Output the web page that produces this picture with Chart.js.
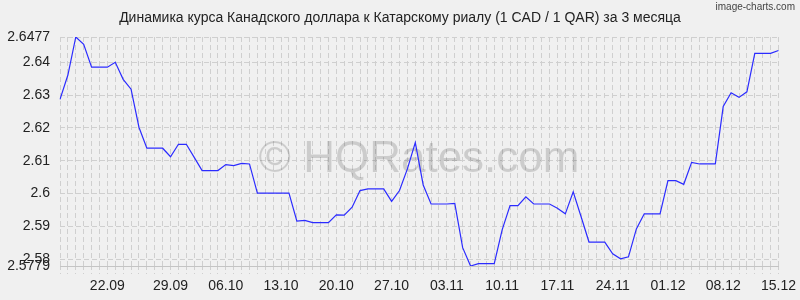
<!DOCTYPE html>
<html>
<head>
<meta charset="utf-8">
<script src="https://cdn.jsdelivr.net/npm/chart.js@4/dist/chart.umd.min.js"></script>
<style>
  html, body { margin: 0; padding: 0; background: #f0f0f0; }
  #wrap { width: 800px; height: 300px; }
</style>
</head>
<body>
<div id="wrap"><canvas id="rateChart"></canvas></div>
<script>
// dates (one point per day, one duplicate in the source data)
const dates = ('16.09 17.09 18.09 19.09 20.09 21.09 22.09 23.09 24.09 25.09 25.09 26.09 27.09 28.09 29.09 30.09 ' +
    '01.10 02.10 03.10 04.10 05.10 06.10 07.10 08.10 09.10 10.10 11.10 12.10 13.10 14.10 15.10 16.10 ' +
    '17.10 18.10 19.10 20.10 21.10 22.10 23.10 24.10 25.10 26.10 27.10 28.10 29.10 30.10 31.10 ' +
    '01.11 02.11 03.11 04.11 05.11 06.11 07.11 08.11 09.11 10.11 11.11 12.11 13.11 14.11 15.11 16.11 ' +
    '17.11 18.11 19.11 20.11 21.11 22.11 23.11 24.11 25.11 26.11 27.11 28.11 29.11 30.11 ' +
    '01.12 02.12 03.12 04.12 05.12 06.12 07.12 08.12 09.12 10.12 11.12 12.12 13.12 14.12 15.12').split(' ');

const shownDates = ['22.09', '29.09', '06.10', '13.10', '20.10', '27.10', '03.11',
    '10.11', '17.11', '24.11', '01.12', '08.12', '15.12'];

// CAD / QAR rate
const rates = [
    2.6287, 2.6361, 2.6477, 2.6455, 2.6385, 2.6385, 2.6385, 2.6400, 2.6348, 2.6318,
    2.6202, 2.6138, 2.6138, 2.6138, 2.6112, 2.6150, 2.6150, 2.6110, 2.6070, 2.6070,
    2.6070, 2.6088, 2.6085, 2.6092, 2.6090, 2.6001, 2.6001, 2.6001, 2.6001, 2.6001,
    2.5916, 2.5918, 2.5911, 2.5911, 2.5911, 2.5935, 2.5934, 2.5958, 2.6009, 2.6014,
    2.6014, 2.6014, 2.5976, 2.6009, 2.6075, 2.6155, 2.6026, 2.5968, 2.5968, 2.5968,
    2.5970, 2.5835, 2.5779, 2.5786, 2.5786, 2.5786, 2.5889, 2.5963, 2.5963, 2.5990,
    2.5968, 2.5968, 2.5968, 2.5955, 2.5938, 2.6005, 2.5929, 2.5852, 2.5852, 2.5852,
    2.5816, 2.5801, 2.5807, 2.5892, 2.5938, 2.5938, 2.5938, 2.6039, 2.6039, 2.6028,
    2.6095, 2.6090, 2.6090, 2.6090, 2.6265, 2.6307, 2.6293, 2.6310, 2.6427, 2.6427,
    2.6427, 2.6436
];

const yTicks = [2.5779, 2.58, 2.59, 2.6, 2.61, 2.62, 2.63, 2.64, 2.6477];

const titleText = 'Динамика курса Канадского доллара к Катарскому риалу (1 CAD / 1 QAR) за 3 месяца';

const gridColor = '#cfcfcf';
const textColor = '#222';
const fontFamily = '"Liberation Sans", Arial, sans-serif';

// title, watermark and credit text
const extraText = {
    id: 'extraText',
    beforeDatasetsDraw(chart) {
        const ctx = chart.ctx;
        ctx.save();
        ctx.fillStyle = 'rgba(0,0,0,0.15)';
        ctx.font = '44px ' + fontFamily;
        ctx.textAlign = 'center';
        ctx.textBaseline = 'middle';
        ctx.fillText('\u00a9 HQRates.com', 419, 160);
        ctx.restore();
    },
    afterDraw(chart) {
        const ctx = chart.ctx;
        ctx.save();
        ctx.fillStyle = textColor;
        ctx.font = '14px ' + fontFamily;
        ctx.textAlign = 'center';
        ctx.textBaseline = 'middle';
        ctx.fillText(titleText, 400, 18);

        ctx.fillStyle = '#444';
        ctx.font = '10px "Liberation Sans Narrow", "Liberation Sans", sans-serif';
        ctx.textAlign = 'right';
        ctx.fillText('image-charts.com', 795, 7);
        ctx.restore();
    }
};

window.onload = function() {
    const ctx = document.getElementById('rateChart').getContext('2d');
    new Chart(ctx, {
        type: 'line',
        data: {
            labels: dates,
            datasets: [{
                data: rates,
                borderColor: '#2b2bff',
                borderWidth: 1.2,
                pointRadius: 0,
                fill: false,
                tension: 0
            }]
        },
        options: {
            responsive: true,
            maintainAspectRatio: false,
            animation: false,
            layout: {
                padding: { left: 0, right: 21, top: 37, bottom: 0 }
            },
            plugins: {
                legend: { display: false },
                tooltip: { enabled: false },
                title: { display: false }
            },
            scales: {
                x: {
                    offset: false,
                    grid: {
                        color: gridColor,
                        tickLength: 8,
                        tickBorderDash: [3, 3],
                        tickColor: gridColor
                    },
                    border: { display: true, color: '#c4c4c4', dash: [5, 3] },
                    ticks: {
                        autoSkip: false,
                        maxRotation: 0,
                        padding: 4,
                        color: textColor,
                        font: { family: fontFamily, size: 14 },
                        callback: function(value, index) {
                            const d = dates[index];
                            return (shownDates.includes(d) && dates.indexOf(d) === index) ? d : '';
                        }
                    },
                    afterFit: function(scale) { scale.height = 34; }
                },
                y: {
                    min: 2.5779,
                    max: 2.6477,
                    grid: {
                        color: gridColor,
                        drawTicks: false
                    },
                    border: { display: false, dash: [5, 3] },
                    ticks: {
                        padding: 10,
                        color: textColor,
                        font: { family: fontFamily, size: 14 },
                        callback: value => String(value)
                    },
                    afterBuildTicks: function(scale) {
                        scale.ticks = yTicks.map(v => ({ value: v }));
                    },
                    afterFit: function(scale) { scale.width = 60; }
                }
            }
        },
        plugins: [extraText]
    });
};
</script>
</body>
</html>
